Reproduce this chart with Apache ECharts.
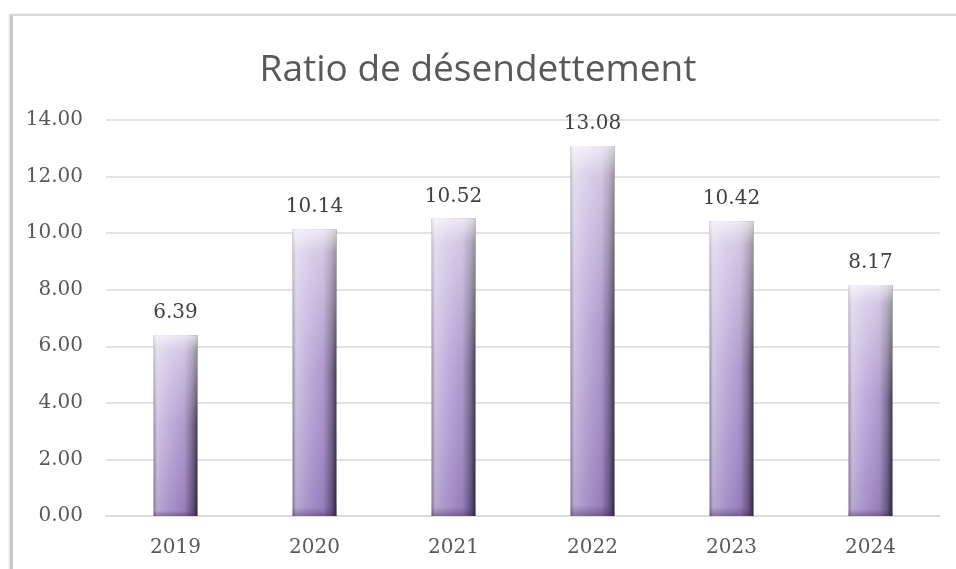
<!DOCTYPE html>
<html>
<head>
<meta charset="utf-8">
<script src="https://cdn.jsdelivr.net/npm/echarts@6/dist/echarts.min.js"></script>
<style>
html,body{margin:0;padding:0;background:#fff;}
#frame{position:absolute;left:10px;top:14px;width:960px;height:570px;border-top:2px solid #d9d9d9;border-left:3px solid #c8c8c8;box-shadow:-1px 0 2px #ddd;}
#chart{position:absolute;left:0;top:0;width:956px;height:569px;}
</style>
</head>
<body>
<div id="frame"></div>
<div id="chart"></div>
<script>
const categories = ['2019','2020','2021','2022','2023','2024'];
const values = [6.39, 10.14, 10.52, 13.08, 10.42, 8.17];
const yTicks = {min: 0, max: 14, interval: 2};
const titleText = 'Ratio de désendettement';

const chart = echarts.init(document.getElementById('chart'));
const baseGrad = new echarts.graphic.LinearGradient(0,0,1,0,[
  {offset:0, color:'#8a7c9e'},
  {offset:0.08, color:'#c9bedb'},
  {offset:0.35, color:'#b7a4d8'},
  {offset:0.7, color:'#a48cc6'},
  {offset:0.88, color:'#6c5a86'},
  {offset:1, color:'#2c2238'}
]);
const overlay = new echarts.graphic.LinearGradient(0,0,0,1,[
  {offset:0, color:'rgba(255,255,255,0.8)'},
  {offset:0.08, color:'rgba(255,255,255,0.5)'},
  {offset:0.5, color:'rgba(255,255,255,0.12)'},
  {offset:0.97, color:'rgba(80,50,120,0.15)'},
  {offset:1, color:'rgba(60,40,90,0.5)'}
]);
chart.setOption({
  animation:false,
  title:{text:titleText,left:'center',top:47,textStyle:{fontFamily:"'Comic Sans MS','Open Sans',sans-serif",fontSize:37,fontWeight:'normal',color:'#595959'}},
  grid:{left:106,right:16,top:120,bottom:53,containLabel:false},
  xAxis:{type:'category',data:categories,axisTick:{show:false},axisLine:{lineStyle:{color:'#d9d9d9',width:1.5}},
    axisLabel:{fontFamily:'DejaVu Serif',fontSize:20,color:'#595959',margin:22}},
  yAxis:{type:'value',min:yTicks.min,max:yTicks.max,interval:yTicks.interval,
    axisLabel:{formatter:v=>v.toFixed(2),fontFamily:'DejaVu Serif',fontSize:20,color:'#595959',margin:23},
    splitLine:{lineStyle:{color:'#d9d9d9',width:1.5}},axisLine:{show:false},axisTick:{show:false}},
  series:[
    {type:'bar',data:values,barWidth:44,itemStyle:{color:baseGrad},
     label:{show:true,position:'top',distance:12,formatter:p=>p.value.toFixed(2),fontFamily:'DejaVu Serif',fontSize:20,color:'#404040'}},
    {type:'bar',data:values,barWidth:44,barGap:'-100%',itemStyle:{color:overlay},silent:true}
  ]
});
</script>
</body>
</html>
